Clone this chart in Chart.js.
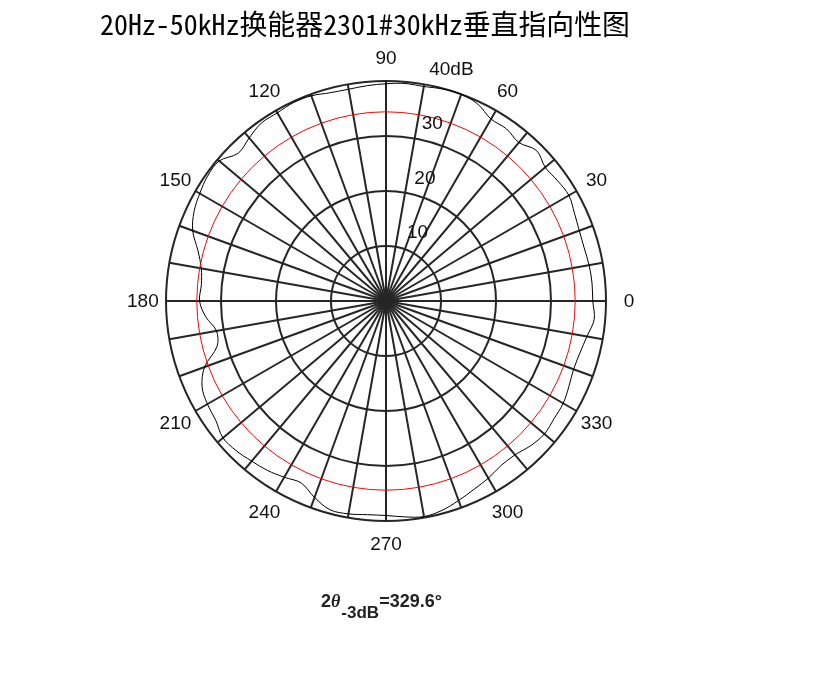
<!DOCTYPE html>
<html>
<head>
<meta charset="utf-8">
<script src="https://cdn.jsdelivr.net/npm/chart.js@4.4.1/dist/chart.umd.min.js"></script>
<style>
  html, body { margin: 0; padding: 0; background: #fff; }
  #wrap { width: 823px; height: 686px; position: relative; }
</style>
</head>
<body>
<div id="wrap"><canvas id="polar"></canvas></div>
<script>
// measured angles (deg, counter-clockwise from east) and level in dB
const angles = [0, 5, 10, 15, 20, 25, 30, 35, 40, 45, 50, 55, 60, 65, 70, 75, 80, 85,
  90, 95, 100, 105, 110, 115, 120, 125, 130, 135, 140, 145, 150, 155, 160, 165, 170, 175,
  180, 185, 190, 195, 200, 205, 210, 215, 220, 225, 230, 235, 240, 245, 250, 255, 260, 265,
  270, 275, 280, 285, 290, 295, 300, 305, 310, 315, 320, 325, 330, 335, 340, 345, 350, 355];
const levels = [37.6, 37.6, 37.5, 37.3, 37.4, 37.8, 38.4, 38.1, 37.8, 38.7, 37.6, 38.2, 38.2, 39.5, 40.0, 39.9, 39.6, 39.7,
  39.5, 39.3, 39.1, 39.2, 39.7, 39.8, 39.5, 39.5, 38.7, 38.0, 39.6, 39.6, 39.1, 38.5, 37.4, 35.4, 34.1, 33.7,
  33.9, 32.9, 31.3, 31.8, 35.1, 36.9, 37.5, 37.8, 38.7, 38.5, 38.0, 37.6, 37.0, 36.5, 38.0, 39.3, 39.3, 39.0,
  39.0, 39.4, 39.8, 39.4, 38.6, 37.8, 37.2, 36.5, 36.5, 37.2, 37.6, 37.3, 37.2, 36.7, 36.3, 36.5, 37.1, 38.0];
const halfPowerLevel = 34.4;
const radialTicks = [10, 20, 30, 40];
const radialTickLabels = ['10', '20', '30', '40dB'];
const angleTicks = [0, 30, 60, 90, 120, 150, 180, 210, 240, 270, 300, 330];
const title = '20Hz-50kHz换能器2301#30kHz垂直指向性图';
const beamWidth = '329.6°';

// radar goes clockwise from startAngle, so feed the angles in reverse order
const order = angles.map((a, i) => (angles.length - i) % angles.length);
const labels = order.map(i => angles[i]);
const curve = order.map(i => levels[i]);
const ring = order.map(() => halfPowerLevel);

const gridColor = '#262626';
const labelFont = '19px "Liberation Sans", Arial, sans-serif';

const polarText = {
  id: 'polarText',
  afterDraw(chart) {
    const ctx = chart.ctx;
    const r = chart.scales.r;
    ctx.save();
    ctx.fillStyle = '#111';
    ctx.font = labelFont;
    ctx.textAlign = 'center';
    ctx.textBaseline = 'middle';
    angleTicks.forEach(a => {
      const idx = labels.indexOf(a);
      const p = r.getPointPositionForValue(idx, r.max * 1.105);
      ctx.fillText(String(a), p.x, p.y + 1);
    });

    ctx.textAlign = 'left';
    ctx.textBaseline = 'alphabetic';
    radialTicks.forEach((v, i) => {
      const d = r.getDistanceFromCenterForValue(v);
      ctx.fillText(radialTickLabels[i], r.xCenter + 13.5 + d * 0.135, r.yCenter - (d * 0.99 + 8.5));
    });

    // title
    ctx.fillStyle = '#000';
    ctx.font = '28px "Noto Sans Mono CJK SC", "Noto Sans CJK SC", sans-serif';
    ctx.textAlign = 'left';
    ctx.textBaseline = 'middle';
    const tw = ctx.measureText(title).width;
    ctx.save();
    ctx.translate(100, 24);
    ctx.scale(530 / tw, 1);
    ctx.fillText(title, 0, 0);
    ctx.restore();

    // beam width note
    ctx.fillStyle = '#222';
    ctx.textBaseline = 'alphabetic';
    let x = 321;
    const y = 607;
    ctx.font = 'bold 18px "Liberation Sans", Arial, sans-serif';
    ctx.fillText('2', x, y);
    x += ctx.measureText('2').width;
    ctx.font = 'italic bold 18px "Liberation Serif", serif';
    ctx.fillText('θ', x, y);
    x += ctx.measureText('θ').width + 1;
    ctx.font = 'bold 17px "Liberation Sans", Arial, sans-serif';
    ctx.fillText('-3dB', x, y + 11);
    x += ctx.measureText('-3dB').width;
    ctx.font = 'bold 18px "Liberation Sans", Arial, sans-serif';
    ctx.fillText('=' + beamWidth, x, y);
    ctx.restore();
  }
};

new Chart(document.getElementById('polar'), {
  type: 'radar',
  data: {
    labels: labels,
    datasets: [
      {
        data: ring,
        borderColor: '#ff0000',
        borderWidth: 1,
        pointRadius: 0,
        fill: false,
        tension: 0
      },
      {
        data: curve,
        borderColor: '#000',
        borderWidth: 1,
        pointRadius: 0,
        fill: false,
        tension: 0.35
      }
    ]
  },
  options: {
    responsive: true,
    maintainAspectRatio: false,
    animation: false,
    events: [],
    layout: { padding: { left: 166, right: 217, top: 81, bottom: 165 } },
    plugins: { legend: { display: false }, tooltip: { enabled: false } },
    scales: {
      r: {
        startAngle: 90,
        min: 0,
        max: 40,
        ticks: { display: false, stepSize: 10 },
        pointLabels: { display: false },
        grid: { circular: true, color: gridColor, lineWidth: 2 },
        angleLines: {
          color: c => (c.index % 2 === 0 ? gridColor : 'rgba(0,0,0,0)'),
          lineWidth: 2
        }
      }
    }
  },
  plugins: [polarText]
});
</script>
</body>
</html>
